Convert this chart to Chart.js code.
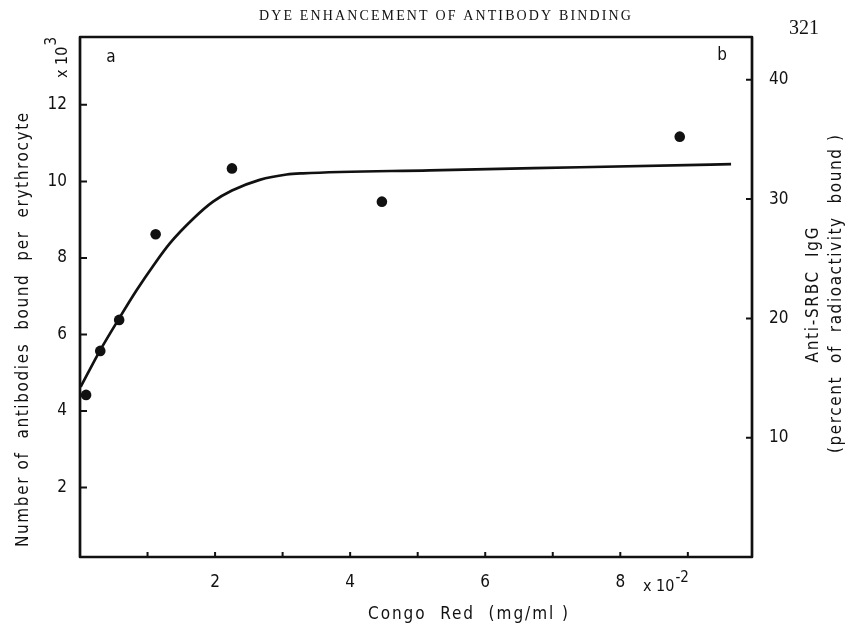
<!DOCTYPE html>
<html>
<head>
<meta charset="utf-8">
<script src="https://cdn.jsdelivr.net/npm/chart.js@4/dist/chart.umd.min.js"></script>
<style>
  html, body { margin: 0; padding: 0; background: #fff; }
  #wrap { width: 857px; height: 624px; position: relative; }
</style>
</head>
<body>
<div id="wrap"><canvas id="c"></canvas></div>
<script>
// ---- data ----
// Congo Red concentration (x 10^-2 mg/ml)
const pointX = [0.09, 0.30, 0.58, 1.12, 2.25, 4.47, 8.88];
// Number of antibodies bound per erythrocyte (x 10^3)
const pointY = [4.42, 5.57, 6.38, 8.62, 10.34, 9.47, 11.17];

// fitted curve drawn through the data
const curveX = [0.01, 0.30, 0.58, 0.84, 1.09, 1.33, 1.68, 1.97, 2.25, 2.66, 3.06, 3.30, 5.18, 7.40, 9.64];
const curveY = [4.63, 5.59, 6.42, 7.16, 7.81, 8.38, 9.03, 9.47, 9.76, 10.04, 10.18, 10.21, 10.29, 10.37, 10.45];

// tick labels
const xTickLabels = [2, 4, 6, 8];
const xMinorTicks = [1, 2, 3, 4, 5, 6, 7, 8, 9];
const yLeftTicks = [2, 4, 6, 8, 10, 12];
const yRightTicks = [10, 20, 30, 40];

const INK = '#111111';
const SANS = '"DejaVu Sans Condensed", "DejaVu Sans", "Liberation Sans", sans-serif';
const SERIF = '"Liberation Serif", "DejaVu Serif", serif';

function drawFitted(ctx, text, x, y, font, target, angle) {
  ctx.save();
  ctx.translate(x, y);
  if (angle) ctx.rotate(angle);
  ctx.font = font;
  ctx.fillStyle = INK;
  ctx.textAlign = 'left';
  ctx.textBaseline = 'alphabetic';
  const w = ctx.measureText(text).width;
  let total = w;
  if (target && ('letterSpacing' in ctx)) {
    const ls = (target - w) / Math.max(1, text.length - 1);
    ctx.letterSpacing = ls.toFixed(2) + 'px';
    total = target;
  }
  ctx.fillText(text, -total / 2, 0);
  ctx.restore();
}

const decor = {
  id: 'decor',
  afterDatasetsDraw(chart) {
    const ctx = chart.ctx;
    const a = chart.chartArea;
    const sx = chart.scales.x, sy = chart.scales.y, sy2 = chart.scales.y2;
    ctx.save();
    ctx.strokeStyle = INK;
    ctx.lineWidth = 2.7;
    ctx.lineJoin = 'round';
    ctx.strokeRect(a.left, a.top, a.right - a.left, a.bottom - a.top);
    ctx.lineWidth = 2;
    ctx.beginPath();
    xMinorTicks.forEach(v => {
      const px = sx.getPixelForValue(v);
      ctx.moveTo(px, a.bottom); ctx.lineTo(px, a.bottom - 5);
    });
    yLeftTicks.forEach(v => {
      const py = sy.getPixelForValue(v);
      ctx.moveTo(a.left, py); ctx.lineTo(a.left + 7, py);
    });
    yRightTicks.forEach(v => {
      const py = sy2.getPixelForValue(v);
      ctx.moveTo(a.right, py); ctx.lineTo(a.right - 6, py);
    });
    ctx.stroke();
    ctx.restore();
  },
  afterDraw(chart) {
    const ctx = chart.ctx;
    // running header
    drawFitted(ctx, 'DYE ENHANCEMENT OF ANTIBODY BINDING', 445, 20, '14px ' + SERIF, 372, 0);
    drawFitted(ctx, '321', 804, 34, '20px ' + SERIF, 0, 0);
    // panel letters
    drawFitted(ctx, 'a', 111, 62, '17px ' + SANS, 0, 0);
    drawFitted(ctx, 'b', 722, 60, '17px ' + SANS, 0, 0);
    // left title
    drawFitted(ctx, 'Number of  antibodies  bound  per  erythrocyte', 28, 330, '17px ' + SANS, 434, -Math.PI / 2);
    // x 10^3
    ctx.save();
    ctx.translate(67, 78);
    ctx.rotate(-Math.PI / 2);
    ctx.fillStyle = INK;
    ctx.font = '16px ' + SANS;
    ctx.textAlign = 'left';
    ctx.textBaseline = 'alphabetic';
    ctx.fillText('x 10', 0, 0);
    const w1 = ctx.measureText('x 10').width;
    ctx.font = '15px ' + SANS;
    ctx.fillText('3', w1 + 1, -11);
    ctx.restore();
    // right titles
    drawFitted(ctx, 'Anti-SRBC  IgG', 818, 295, '17px ' + SANS, 135, -Math.PI / 2);
    drawFitted(ctx, '(percent  of  radioactivity  bound )', 841, 294, '17px ' + SANS, 318, -Math.PI / 2);
    // x title
    drawFitted(ctx, 'Congo  Red  (mg/ml )', 468, 619, '17px ' + SANS, 200, 0);
    // x 10^-2
    ctx.save();
    ctx.fillStyle = INK;
    ctx.font = '16px ' + SANS;
    ctx.textAlign = 'left';
    ctx.textBaseline = 'alphabetic';
    ctx.fillText('x 10', 643, 591);
    const w2 = ctx.measureText('x 10').width;
    ctx.font = '15px ' + SANS;
    ctx.fillText('-2', 643 + w2 + 1, 582);
    ctx.restore();
  }
};

const tickFont = { family: SANS, size: 17 };

new Chart(document.getElementById('c'), {
  type: 'scatter',
  data: {
    datasets: [
      {
        type: 'line',
        label: 'fit',
        data: curveX.map((x, i) => ({ x, y: curveY[i] })),
        borderColor: INK,
        borderWidth: 2.7,
        pointRadius: 0,
        fill: false,
        cubicInterpolationMode: 'monotone',
        yAxisID: 'y'
      },
      {
        type: 'scatter',
        label: 'data',
        data: pointX.map((x, i) => ({ x, y: pointY[i] })),
        backgroundColor: INK,
        borderColor: INK,
        borderWidth: 0,
        pointRadius: 5.3,
        clip: false,
        yAxisID: 'y'
      }
    ]
  },
  options: {
    responsive: true,
    maintainAspectRatio: false,
    devicePixelRatio: 1,
    animation: false,
    layout: { padding: { top: 37, left: 0, right: 0, bottom: 0 } },
    plugins: { legend: { display: false }, tooltip: { enabled: false }, title: { display: false } },
    scales: {
      x: {
        type: 'linear',
        min: 0,
        max: 9.95,
        grid: { display: false, drawTicks: false },
        border: { display: false },
        afterBuildTicks: s => { s.ticks = xTickLabels.map(v => ({ value: v })); },
        afterFit: s => { s.height = 67; },
        ticks: { font: tickFont, color: INK, padding: 15, maxRotation: 0, autoSkip: false }
      },
      y: {
        type: 'linear',
        position: 'left',
        min: 0.183,
        max: 13.774,
        grid: { display: false, drawTicks: false },
        border: { display: false },
        afterBuildTicks: s => { s.ticks = yLeftTicks.map(v => ({ value: v })); },
        afterFit: s => { s.width = 80; },
        ticks: { font: tickFont, color: INK, padding: 13, autoSkip: false }
      },
      y2: {
        type: 'linear',
        position: 'right',
        display: true,
        min: 0,
        max: 43.59,
        grid: { display: false, drawTicks: false },
        border: { display: false },
        afterBuildTicks: s => { s.ticks = yRightTicks.map(v => ({ value: v })); },
        afterFit: s => { s.width = 105; },
        ticks: { font: tickFont, color: INK, padding: 17, autoSkip: false }
      }
    }
  },
  plugins: [decor]
});
</script>
</body>
</html>
